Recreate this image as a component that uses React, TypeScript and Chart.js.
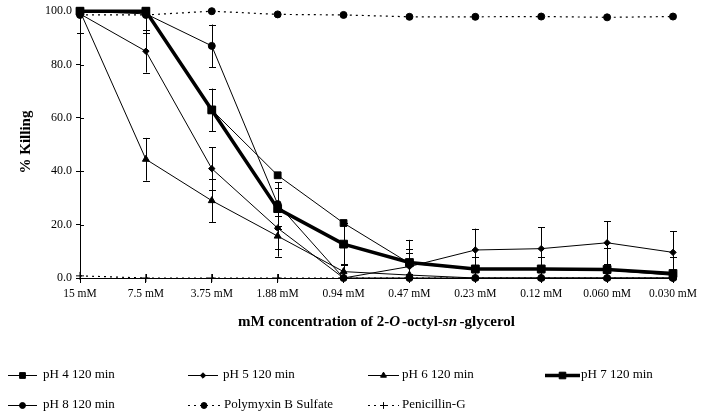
import React, { useEffect, useRef } from "react";
import { Chart, registerables } from "chart.js";
import { drawPoint } from "chart.js/helpers";

Chart.register(...registerables);

// ---------- data ----------
const categories = ["15 mM", "7.5 mM", "3.75 mM", "1.88 mM", "0.94 mM", "0.47 mM", "0.23 mM", "0.12 mM", "0.060 mM", "0.030 mM"];
const yTickValues = [0, 20, 40, 60, 80, 100];

const seriesNames = ["pH 4 120 min", "pH 5 120 min", "pH 6 120 min", "pH 7 120 min", "pH 8 120 min", "Polymyxin B Sulfate", "Penicillin-G"];

const pH4 = [100, 100, 63, 38.5, 20.6, 5.5, 3.2, 3.2, 3.0, 1.0];
const pH4Err = [0, 0, 0, 0, 0, 4, 0, 0, 0, 0];
const pH5 = [99, 85, 41, 18.7, 0, 4.3, 10.5, 11, 13.2, 9.6];
const pH5Err = [7, 8, 8, 8, 0, 10, 8, 8, 8, 8];
const pH6 = [100, 44.5, 29, 15.7, 2.4, 1.1, 0, 0, 0, 0];
const pH6Err = [0, 8, 8, 7.7, 3, 0, 0, 0, 0, 0];
const pH7 = [100, 100, 63, 26, 12.7, 5.8, 3.4, 3.4, 3.2, 1.7];
const pH7Err = [0, 0, 8, 7.6, 8, 5, 4.6, 4.6, 8, 6.3];
const pH8 = [100, 99, 87, 27.7, 0, 0, 0, 0, 0, 0];
const pH8Err = [0, 7, 8, 8.2, 0, 0, 0, 0, 0, 0];
const polymyxin = [98.6, 98.6, 100, 98.8, 98.6, 97.9, 97.9, 98, 97.7, 98];
const penicillin = [0.8, 0, 0, 0, 0, 0, 0, 0, 0, 0];

const FONT = "'Liberation Serif', 'Times New Roman', serif";

// ---------- plugins ----------
const errorBarPlugin = {
  id: "errorBars",
  afterDatasetsDraw(chart: any) {
    const { ctx, chartArea } = chart;
    const yScale = chart.scales.y;
    ctx.save();
    ctx.beginPath();
    ctx.rect(chartArea.left - 10, chartArea.top, chartArea.right - chartArea.left + 20, chartArea.bottom - chartArea.top);
    ctx.clip();
    ctx.strokeStyle = "#000";
    ctx.lineWidth = 1;
    chart.data.datasets.forEach((ds: any, i: number) => {
      const errs: number[] | undefined = ds.errors;
      if (!errs) return;
      const meta = chart.getDatasetMeta(i);
      meta.data.forEach((pt: any, j: number) => {
        const e = errs[j];
        if (!e) return;
        const v = ds.data[j];
        const px = Math.round(pt.x) + 0.5;
        const yt = yScale.getPixelForValue(v + e);
        const yb = yScale.getPixelForValue(v - e);
        ctx.beginPath();
        ctx.moveTo(px, yt);
        ctx.lineTo(px, yb);
        ctx.moveTo(px - 3.5, Math.round(yt) + 0.5);
        ctx.lineTo(px + 3.5, Math.round(yt) + 0.5);
        ctx.moveTo(px - 3.5, Math.round(yb) + 0.5);
        ctx.lineTo(px + 3.5, Math.round(yb) + 0.5);
        ctx.stroke();
      });
    });
    ctx.restore();
  },
};

const innerTicksPlugin = {
  id: "innerTicks",
  beforeDatasetsDraw(chart: any) {
    const { ctx, chartArea } = chart;
    const xs = chart.scales.x;
    const ys = chart.scales.y;
    ctx.save();
    ctx.strokeStyle = "#000";
    ctx.lineWidth = 1;
    ctx.beginPath();
    ys.ticks.forEach((t: any) => {
      const py = Math.round(ys.getPixelForValue(t.value)) + 0.5;
      ctx.moveTo(chartArea.left, py);
      ctx.lineTo(chartArea.left + 4, py);
    });
    xs.ticks.forEach((_t: any, i: number) => {
      const px = Math.round(xs.getPixelForTick(i)) + 0.5;
      ctx.moveTo(px, chartArea.bottom);
      ctx.lineTo(px, chartArea.bottom - 4);
    });
    ctx.stroke();
    ctx.restore();
  },
};

const titlesPlugin = {
  id: "titles",
  afterDraw(chart: any) {
    const { ctx, chartArea } = chart;
    ctx.save();
    ctx.fillStyle = "#000";
    // Y title
    ctx.save();
    ctx.translate(26, 142);
    ctx.rotate(-Math.PI / 2);
    ctx.font = `bold 15px ${FONT}`;
    ctx.textAlign = "center";
    ctx.textBaseline = "middle";
    ctx.fillText("% Killing", 0, 0);
    ctx.restore();

    // X title with mixed styles
    const segs: [string, string, number][] = [
      ["mM concentration of 2-", `bold 15px ${FONT}`, 0],
      ["O", `italic bold 15px ${FONT}`, 2],
      ["-octyl-", `bold 15px ${FONT}`, 0],
      ["sn", `italic bold 15px ${FONT}`, 2.5],
      ["-glycerol", `bold 15px ${FONT}`, 0],
    ];
    let total = 0;
    segs.forEach(([t, f, g]) => {
      ctx.font = f;
      total += ctx.measureText(t).width + g;
    });
    const cx = (chartArea.left + chartArea.right) / 2;
    let x = cx - total / 2;
    ctx.textBaseline = "middle";
    ctx.textAlign = "left";
    segs.forEach(([t, f, g]) => {
      ctx.font = f;
      ctx.fillText(t, x, 322);
      x += ctx.measureText(t).width + g;
    });
    ctx.restore();
  },
};

const legendLayout = [
  { x0: 8, x1: 37, tx: 43, y: 375 },
  { x0: 188, x1: 218, tx: 223, y: 375 },
  { x0: 368, x1: 399, tx: 402, y: 375 },
  { x0: 545, x1: 580, tx: 581, y: 375 },
  { x0: 8, x1: 37, tx: 43, y: 405 },
  { x0: 188, x1: 220, tx: 224, y: 405 },
  { x0: 368, x1: 399, tx: 402, y: 405 },
];

const legendPlugin = {
  id: "customLegend",
  afterDraw(chart: any) {
    const { ctx } = chart;
    ctx.save();
    chart.data.datasets.forEach((ds: any, i: number) => {
      const L = legendLayout[i];
      if (!L) return;
      ctx.strokeStyle = "#000";
      ctx.fillStyle = "#000";
      ctx.lineWidth = ds.borderWidth;
      ctx.setLineDash(ds.borderDash || []);
      ctx.beginPath();
      ctx.moveTo(L.x0, L.y + 0.5);
      ctx.lineTo(L.x1, L.y + 0.5);
      ctx.stroke();
      ctx.setLineDash([]);
      const mx = (L.x0 + L.x1) / 2;
      ctx.lineWidth = ds.pointBorderWidth;
      drawPoint(ctx, { pointStyle: ds.pointStyle, radius: ds.pointRadius * 0.85, rotation: 0, borderWidth: ds.pointBorderWidth }, mx, L.y + 0.5);
      ctx.font = `13px ${FONT}`;
      ctx.textAlign = "left";
      ctx.textBaseline = "middle";
      ctx.fillText(ds.label, L.tx, L.y);
    });
    ctx.restore();
  },
};

// ---------- component ----------
export default function App() {
  const ref = useRef<HTMLCanvasElement | null>(null);

  useEffect(() => {
    document.body.style.margin = "0";
    const canvas = ref.current;
    if (!canvas) return;

    const base = (label: string, data: number[], extra: any) => ({
      label,
      data,
      borderColor: "#000",
      backgroundColor: "#000",
      pointBackgroundColor: "#000",
      pointBorderColor: "#000",
      pointBorderWidth: 1,
      borderWidth: 1,
      tension: 0,
      fill: false,
      clip: false,
      ...extra,
    });

    const chart = new Chart(canvas, {
      type: "line",
      data: {
        labels: categories,
        datasets: [
          base(seriesNames[0], pH4, { pointStyle: "rect", pointRadius: 4.8, errors: pH4Err }),
          base(seriesNames[1], pH5, { pointStyle: "rectRot", pointRadius: 3.2, errors: pH5Err }),
          base(seriesNames[2], pH6, { pointStyle: "triangle", pointRadius: 4, errors: pH6Err }),
          base(seriesNames[3], pH7, { pointStyle: "rect", pointRadius: 5.5, borderWidth: 3.5, errors: pH7Err }),
          base(seriesNames[4], pH8, { pointStyle: "circle", pointRadius: 3.5, errors: pH8Err }),
          base(seriesNames[5], polymyxin, { pointStyle: "circle", pointRadius: 3.5, borderWidth: 1.2, borderDash: [2, 4] }),
          base(seriesNames[6], penicillin, { pointStyle: "cross", pointRadius: 4, borderWidth: 1.2, borderDash: [2, 4] }),
        ] as any,
      },
      options: {
        responsive: false,
        animation: false,
        devicePixelRatio: window.devicePixelRatio || 1,
        layout: { padding: { left: 0, right: 28, top: 11, bottom: 109 } },
        plugins: {
          legend: { display: false },
          tooltip: { enabled: false },
          title: { display: false },
        },
        scales: {
          x: {
            type: "category",
            offset: false,
            grid: { display: true, drawOnChartArea: false, drawTicks: true, tickLength: 5, color: "#000" },
            border: { display: true, color: "#000", width: 1 },
            ticks: {
              color: "#000",
              font: { family: FONT, size: 11.5 },
              padding: 4,
              maxRotation: 0,
              autoSkip: false,
            },
            afterFit: (s: any) => {
              s.height = 30;
            },
          },
          y: {
            min: 0,
            max: 100,
            afterBuildTicks: (s: any) => {
              s.ticks = yTickValues.map((v) => ({ value: v }));
            },
            grid: { display: true, drawOnChartArea: false, drawTicks: true, tickLength: 4, color: "#000" },
            border: { display: true, color: "#000", width: 1 },
            ticks: {
              color: "#000",
              font: { family: FONT, size: 12 },
              padding: 4,
              callback: (v: any) => Number(v).toFixed(1),
            },
            afterFit: (s: any) => {
              s.width = 80;
            },
          },
        },
      } as any,
      plugins: [innerTicksPlugin, errorBarPlugin, titlesPlugin, legendPlugin],
    });

    return () => chart.destroy();
  }, []);

  return (
    <div style={{ width: 701, height: 417, background: "#fff" }}>
      <canvas ref={ref} width={701} height={417} style={{ width: 701, height: 417, display: "block" }} />
    </div>
  );
}
